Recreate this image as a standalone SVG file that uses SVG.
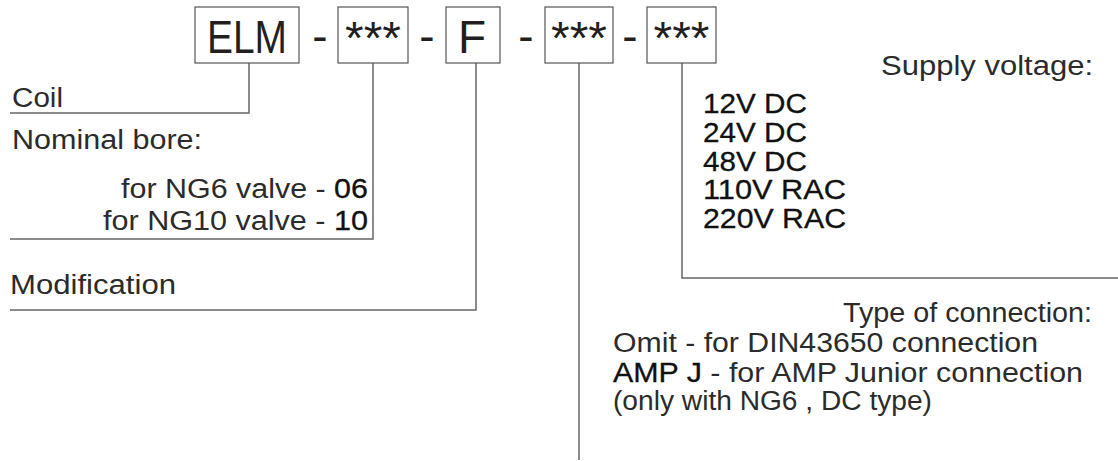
<svg xmlns="http://www.w3.org/2000/svg" width="1118" height="461" viewBox="0 0 1118 461">
<style>
.box{fill:#fff;stroke:#555;stroke-width:1.2}
.ln{fill:none;stroke:#666;stroke-width:1.5}
.big{font-family:"Liberation Sans",Arial,sans-serif;font-size:46px;fill:#231f20}
.t{font-family:"Liberation Sans",Arial,sans-serif;font-size:27px;fill:#2b2b2b}
.r{fill:#111;stroke:#111;stroke-width:0.3}
</style>
<rect width="1118" height="461" fill="#fff"/>
<g id="connectors">
<polyline class="ln" points="249,63 249,113 10,113"/>
<polyline class="ln" points="373,63 373,239 10,239"/>
<polyline class="ln" points="476,63 476,310 10,310"/>
<polyline class="ln" points="579,63 579,460"/>
<polyline class="ln" points="682,63 682,278 1118,278"/>
</g>
<g id="code">
<g id="box-elm"><rect class="box" x="195" y="7" width="104" height="56"/><text class="big" x="247" y="53" text-anchor="middle" textLength="80" lengthAdjust="spacingAndGlyphs">ELM</text></g>
<text class="big" x="320" y="52" text-anchor="middle">-</text>
<g id="box-bore"><rect class="box" x="338" y="7" width="70" height="56"/><text class="big" x="373" y="54" text-anchor="middle" textLength="56" lengthAdjust="spacingAndGlyphs">***</text></g>
<text class="big" x="427" y="52" text-anchor="middle">-</text>
<g id="box-f"><rect class="box" x="446" y="7" width="54" height="56"/><text class="big" x="472" y="53" text-anchor="middle">F</text></g>
<text class="big" x="526" y="52" text-anchor="middle">-</text>
<g id="box-conn"><rect class="box" x="545" y="7" width="68" height="56"/><text class="big" x="579" y="54" text-anchor="middle" textLength="56" lengthAdjust="spacingAndGlyphs">***</text></g>
<text class="big" x="630" y="52" text-anchor="middle">-</text>
<g id="box-volt"><rect class="box" x="647" y="7" width="69" height="56"/><text class="big" x="681.5" y="54" text-anchor="middle" textLength="56" lengthAdjust="spacingAndGlyphs">***</text></g>
</g>
<g id="coil"><text class="t" x="12" y="107" textLength="51" lengthAdjust="spacingAndGlyphs">Coil</text></g>
<g id="bore">
<text class="t" x="12" y="149" textLength="190" lengthAdjust="spacingAndGlyphs">Nominal bore:</text>
<text class="t" x="121" y="198" textLength="247" lengthAdjust="spacingAndGlyphs">for NG6 valve - <tspan class="r">06</tspan></text>
<text class="t" x="103" y="230" textLength="265" lengthAdjust="spacingAndGlyphs">for NG10 valve - <tspan class="r">10</tspan></text>
</g>
<g id="modification"><text class="t" x="10" y="294" textLength="166" lengthAdjust="spacingAndGlyphs">Modification</text></g>
<g id="supply">
<text class="t" x="881" y="75" textLength="212" lengthAdjust="spacingAndGlyphs">Supply voltage:</text>
<text class="t r" x="703" y="113" textLength="104" lengthAdjust="spacingAndGlyphs">12V DC</text>
<text class="t r" x="703" y="142" textLength="104" lengthAdjust="spacingAndGlyphs">24V DC</text>
<text class="t r" x="703" y="171" textLength="104" lengthAdjust="spacingAndGlyphs">48V DC</text>
<text class="t r" x="703" y="199" textLength="143" lengthAdjust="spacingAndGlyphs">110V RAC</text>
<text class="t r" x="703" y="228" textLength="143" lengthAdjust="spacingAndGlyphs">220V RAC</text>
</g>
<g id="connection">
<text class="t" x="843" y="322" textLength="249" lengthAdjust="spacingAndGlyphs">Type of connection:</text>
<text class="t" x="613" y="352" textLength="425" lengthAdjust="spacingAndGlyphs">Omit - for DIN43650 connection</text>
<text class="t" x="613" y="382" textLength="470" lengthAdjust="spacingAndGlyphs"><tspan class="r">AMP J</tspan> - for AMP Junior connection</text>
<text class="t" x="613" y="410" textLength="319" lengthAdjust="spacingAndGlyphs">(only with NG6 , DC type)</text>
</g>
</svg>
